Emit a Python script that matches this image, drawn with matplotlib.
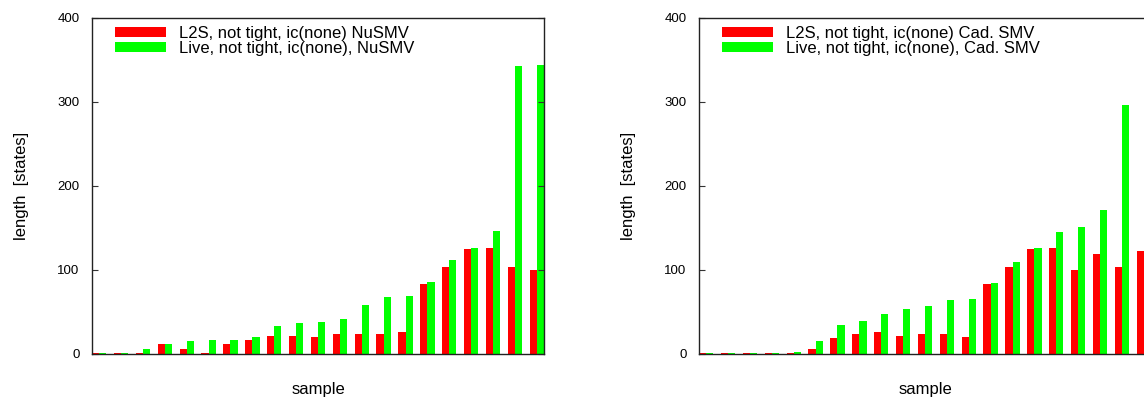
import matplotlib
matplotlib.use("Agg")
import matplotlib.pyplot as plt
from matplotlib.patches import Patch
import numpy as np

plt.rcParams["font.family"] = ["Liberation Sans", "DejaVu Sans"]

RED = "#ff0000"
GREEN = "#00ff00"

# left panel: NuSMV
nusmv_l2s = [1, 1, 1, 12, 6, 1.5, 12, 16.7, 21.8, 22, 20, 24, 24, 24, 26.6, 83.7, 103, 125.4, 126.5, 103, 99.6]
nusmv_live = [1, 1, 6.5, 12.5, 16, 16.7, 16.7, 20.6, 33, 36.5, 37.7, 42, 58, 68, 69.5, 85.7, 112, 125.8, 146, 343, 344.6]
nusmv_labels = ["L2S, not tight, ic(none) NuSMV", "Live, not tight, ic(none), NuSMV"]

# right panel: Cadence SMV
cad_l2s = [1, 1, 1, 1, 1, 6.5, 19.5, 24, 26, 21, 24, 24, 20.6, 83, 103, 125, 126.5, 99.6, 119.6, 103, 123]
cad_live = [1, 1, 1, 1, 2, 16, 34, 39, 48, 53, 57, 63.7, 65, 84, 109, 125.8, 145, 151, 171, 296, 336]
cad_labels = ["L2S, not tight, ic(none) Cad. SMV", "Live, not tight, ic(none), Cad. SMV"]


def panel(ax, red_vals, green_vals, labels):
    x = np.arange(len(red_vals))
    w = 0.33
    ax.bar(x - w / 2, red_vals, w, color=RED, linewidth=0)
    ax.bar(x + w / 2, green_vals, w, color=GREEN, linewidth=0)
    ax.set_xlim(-w, len(red_vals) - 1 + w)
    ax.set_ylim(0, 400)
    ax.set_yticks([0, 100, 200, 300, 400])
    ax.set_xticks([])
    ax.tick_params(axis="y", direction="in", length=4, right=True, labelsize=9.5,
                   pad=9, color="#333333")
    for s in ax.spines.values():
        s.set_linewidth(1.0)
        s.set_color("#222222")
    ax.set_xlabel("sample", fontsize=12, labelpad=20)
    ax.set_ylabel("length  [states]", fontsize=12, labelpad=20)
    handles = [Patch(facecolor=RED, edgecolor="none"), Patch(facecolor=GREEN, edgecolor="none")]
    ax.legend(handles, labels, loc="upper left", bbox_to_anchor=(0.019, 1.019), frameon=False,
              fontsize=12, handlelength=3.1, handleheight=0.55, handletextpad=0.75,
              labelspacing=0.0, borderaxespad=0.45)


fig = plt.figure(figsize=(11.44, 3.98), dpi=100)
ax1 = fig.add_axes([92 / 1144, 44 / 398, 452 / 1144, 336 / 398])
ax2 = fig.add_axes([699 / 1144, 44 / 398, 452 / 1144, 336 / 398])
panel(ax1, nusmv_l2s, nusmv_live, nusmv_labels)
panel(ax2, cad_l2s, cad_live, cad_labels)

fig.savefig("out.png", dpi=100)
